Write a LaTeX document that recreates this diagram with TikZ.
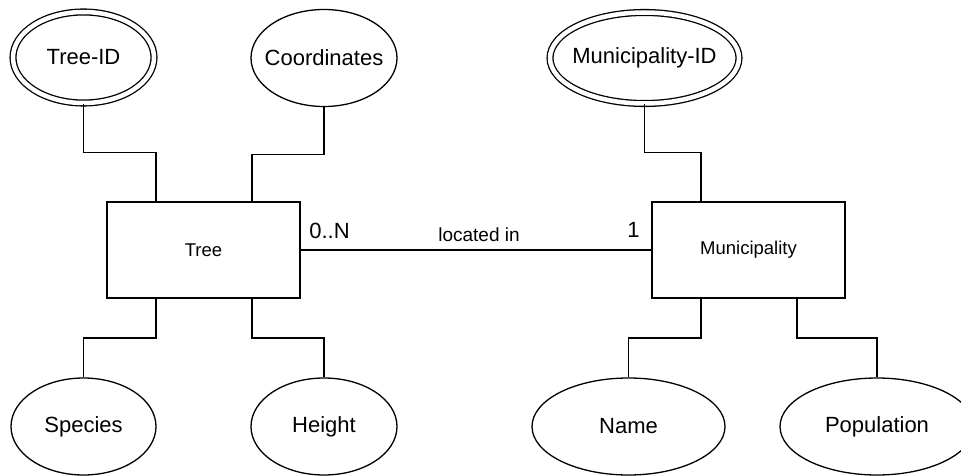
\documentclass[tikz,border=0pt]{standalone}
\usepackage{fontspec}
\setmainfont{Liberation Sans}
\usetikzlibrary{calc,shapes.geometric}

\begin{document}
\begin{tikzpicture}[x=1pt,y=-1pt,line width=1.3pt,
    entity/.style={draw,rectangle,minimum width=193pt,minimum height=96pt,
      font=\fontsize{18.5}{22}\selectfont},
    attr/.style={draw,ellipse,inner sep=0pt,minimum height=97pt,
      font=\fontsize{22}{26}\selectfont,
      execute at begin node=\hbox to 0pt\bgroup\hss,
      execute at end node=\hss\egroup},
    keyattr/.style={attr,double,double distance=4.5pt,minimum height=91pt},
    card/.style={inner sep=0pt,font=\fontsize{22}{26}\selectfont},
    link/.style={to path={|- ($(\tikztostart)!.5!(\tikztotarget)$) -| (\tikztotarget)}}]
  \useasboundingbox (0,0) rectangle (961,476);
  % entities
  \node[entity] (tree) at (203.5,250) {Tree};
  \node[entity] (mun) at (748.5,250) {Municipality};
  % attributes
  \node[keyattr,minimum width=141pt] (treeid) at (83.5,57.5) {Tree-ID};
  \node[attr,minimum width=146pt] (coord) at (324,58) {Coordinates};
  \node[attr,minimum width=145pt] (species) at (83.5,426.5) {Species};
  \node[attr,minimum width=146pt] (height) at (324,426.5) {Height};
  \node[keyattr,minimum width=189pt] (munid) at (644.5,58) {Municipality-ID};
  \node[attr,minimum width=193pt] (name) at (628.5,426.5) {Name};
  \node[attr,minimum width=194pt] (pop) at (877,426.5) {Population};
  % ports on the entity boxes
  \coordinate (tree-n1) at ([xshift=-47.5pt]tree.north);
  \coordinate (tree-n2) at ([xshift=48.5pt]tree.north);
  \coordinate (tree-s1) at ([xshift=-47.5pt]tree.south);
  \coordinate (tree-s2) at ([xshift=48.5pt]tree.south);
  \coordinate (mun-n1) at ([xshift=-47.5pt]mun.north);
  \coordinate (mun-s1) at ([xshift=-47.5pt]mun.south);
  \coordinate (mun-s2) at ([xshift=48.5pt]mun.south);
  \draw (treeid.south) to[link] (tree-n1);
  \draw (coord.south) to[link] (tree-n2);
  \draw (tree-s1) to[link] (species.north);
  \draw (tree-s2) to[link] (height.north);
  \draw (munid.south) to[link] (mun-n1);
  \draw (mun-s1) to[link] (name.north);
  \draw (mun-s2) to[link] (pop.north);
  % relationship
  \draw (tree) -- (mun)
    node[card,pos=0,anchor=base west,xshift=8pt,yshift=12pt] (c1) {0..N}
    node[card,pos=1,anchor=base east,xshift=-11pt,yshift=13pt] (c2) {1}
    node[card,midway,anchor=base,xshift=3pt,yshift=9pt,font=\fontsize{19}{22}\selectfont] (rel) {located in};
\end{tikzpicture}
\end{document}
